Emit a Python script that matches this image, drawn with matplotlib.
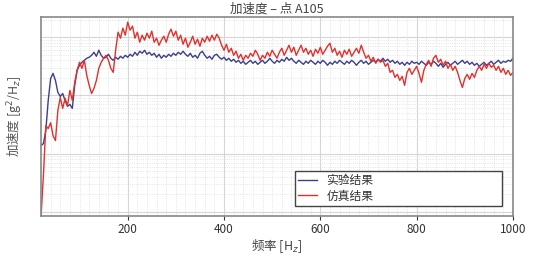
import numpy as np
import matplotlib
matplotlib.use("Agg")
import matplotlib.pyplot as plt
from matplotlib.ticker import MultipleLocator, LogLocator, NullFormatter

plt.rcParams['font.family'] = ['Noto Sans CJK SC', 'DejaVu Sans']

# 频率 [Hz]
freq = np.arange(20, 1001, 5)

# 实验结果 [g^2/Hz]
test_psd = [
    0.0137, 0.0149, 0.025, 0.082, 0.196, 0.239, 0.181, 0.113, 0.096, 0.108,
    0.082, 0.065, 0.070, 0.060, 0.149, 0.270, 0.329, 0.371, 0.401, 0.435,
    0.452, 0.489, 0.551, 0.470, 0.597, 0.489, 0.435, 0.452, 0.509, 0.435,
    0.401, 0.452, 0.418, 0.470, 0.435, 0.489, 0.452, 0.509, 0.470, 0.551,
    0.489, 0.574, 0.530, 0.597, 0.509, 0.551, 0.489, 0.530, 0.452, 0.509,
    0.435, 0.489, 0.452, 0.509, 0.470, 0.530, 0.489, 0.551, 0.509, 0.574,
    0.509, 0.470, 0.530, 0.452, 0.489, 0.435, 0.530, 0.574, 0.489, 0.435,
    0.470, 0.418, 0.489, 0.509, 0.452, 0.418, 0.452, 0.401, 0.435, 0.386,
    0.418, 0.371, 0.401, 0.356, 0.386, 0.342, 0.371, 0.401, 0.356, 0.386,
    0.342, 0.371, 0.401, 0.356, 0.386, 0.435, 0.386, 0.356, 0.401, 0.371,
    0.418, 0.386, 0.452, 0.401, 0.435, 0.386, 0.356, 0.401, 0.371, 0.342,
    0.386, 0.356, 0.401, 0.371, 0.342, 0.386, 0.356, 0.401, 0.371, 0.329,
    0.371, 0.342, 0.386, 0.356, 0.401, 0.371, 0.342, 0.386, 0.356, 0.401,
    0.371, 0.329, 0.371, 0.401, 0.356, 0.386, 0.342, 0.371, 0.401, 0.371,
    0.418, 0.386, 0.435, 0.386, 0.418, 0.371, 0.401, 0.356, 0.386, 0.342,
    0.371, 0.329, 0.371, 0.342, 0.386, 0.356, 0.371, 0.342, 0.386, 0.356,
    0.329, 0.371, 0.342, 0.386, 0.356, 0.316, 0.356, 0.304, 0.342, 0.371,
    0.329, 0.356, 0.386, 0.342, 0.371, 0.401, 0.356, 0.386, 0.342, 0.371,
    0.329, 0.356, 0.316, 0.342, 0.371, 0.329, 0.356, 0.386, 0.342, 0.371,
    0.401, 0.356, 0.386, 0.371, 0.401, 0.386, 0.435,
]

# 仿真结果 [g^2/Hz]
sim_psd = [
    0.00082, 0.0042, 0.030, 0.027, 0.034, 0.0204, 0.0168, 0.055, 0.092, 0.060,
    0.089, 0.067, 0.122, 0.082, 0.168, 0.270, 0.371, 0.292, 0.401, 0.221,
    0.149, 0.108, 0.132, 0.181, 0.292, 0.371, 0.435, 0.489, 0.401, 0.292,
    0.249, 0.597, 1.219, 0.961, 1.429, 1.083, 1.814, 1.320, 1.548, 0.961,
    1.219, 0.820, 1.083, 0.888, 1.172, 0.961, 1.269, 0.820, 0.961, 0.728,
    0.888, 1.040, 0.820, 1.126, 1.374, 1.040, 1.269, 0.888, 1.083, 0.757,
    0.961, 0.672, 0.820, 1.040, 0.757, 0.924, 0.700, 0.961, 0.820, 1.040,
    0.853, 1.083, 0.888, 1.126, 0.961, 0.728, 0.597, 0.757, 0.551, 0.646,
    0.489, 0.574, 0.435, 0.509, 0.401, 0.489, 0.435, 0.530, 0.470, 0.597,
    0.509, 0.401, 0.489, 0.435, 0.551, 0.470, 0.597, 0.509, 0.435, 0.551,
    0.646, 0.489, 0.597, 0.728, 0.551, 0.672, 0.489, 0.597, 0.728, 0.551,
    0.646, 0.509, 0.597, 0.470, 0.621, 0.530, 0.672, 0.509, 0.597, 0.700,
    0.788, 0.551, 0.646, 0.489, 0.574, 0.452, 0.597, 0.509, 0.621, 0.470,
    0.551, 0.646, 0.530, 0.728, 0.551, 0.435, 0.489, 0.386, 0.452, 0.356,
    0.418, 0.371, 0.401, 0.316, 0.356, 0.249, 0.270, 0.204, 0.230, 0.181,
    0.213, 0.149, 0.249, 0.292, 0.230, 0.270, 0.316, 0.239, 0.168, 0.270,
    0.342, 0.401, 0.316, 0.435, 0.489, 0.371, 0.418, 0.329, 0.386, 0.292,
    0.342, 0.270, 0.316, 0.249, 0.181, 0.137, 0.196, 0.230, 0.189, 0.239,
    0.204, 0.270, 0.316, 0.270, 0.342, 0.292, 0.356, 0.304, 0.329, 0.270,
    0.316, 0.249, 0.292, 0.230, 0.270, 0.221, 0.249,
]

labels = ['实验结果', '仿真结果']
colors = ['#3c3f8c', '#e2302c']

fig = plt.figure(figsize=(5.36, 2.59), dpi=100)
ax = fig.add_axes([0.0765, 0.166, 0.8805, 0.768])

ax.plot(freq, test_psd, color=colors[0], lw=1.0, label=labels[0])
ax.plot(freq, sim_psd, color=colors[1], lw=1.0, label=labels[1])

ax.set_yscale('log')
ax.set_ylim(10 ** -3.07, 10 ** 0.345)
ax.set_xlim(20, 1000)

ax.set_xticks([200, 400, 600, 800, 1000])
ax.xaxis.set_minor_locator(MultipleLocator(20))
ax.yaxis.set_major_locator(LogLocator(base=10, numticks=10))
ax.yaxis.set_minor_locator(LogLocator(base=10, subs=np.arange(2, 10), numticks=20))
ax.yaxis.set_major_formatter(NullFormatter())
ax.yaxis.set_minor_formatter(NullFormatter())
ax.tick_params(axis='y', which='both', length=0)
ax.tick_params(axis='x', which='minor', length=0)
ax.tick_params(axis='x', which='major', length=3, labelsize=8.5,
               colors='#333333', pad=2)

ax.grid(True, which='major', color='#d6d6d6', lw=0.8, ls='-')
ax.grid(True, which='minor', color='#dcdcdc', lw=0.6, ls=':')
ax.set_axisbelow(True)

for s in ax.spines.values():
    s.set_color('#888888')
    s.set_linewidth(1.2)

ax.set_title('加速度 – 点 A105', fontsize=9, color='#444444', pad=3)
ax.set_xlabel('频率 [H$_z$]', fontsize=9, color='#444444', labelpad=1)
ax.set_ylabel('加速度 [g$^2$/H$_z$]', fontsize=9, color='#555555', labelpad=8)

leg = ax.legend(loc='lower left', bbox_to_anchor=(0.525, 0.02, 0.464, 0.17),
                mode='expand', fontsize=8.5, frameon=True, fancybox=False,
                handlelength=1.6, borderpad=0.3, labelspacing=0.2,
                framealpha=1)
leg.get_frame().set_edgecolor('#444444')
leg.get_frame().set_linewidth(1.0)
for t in leg.get_texts():
    t.set_color('#333333')

fig.savefig('out.png', dpi=100)
